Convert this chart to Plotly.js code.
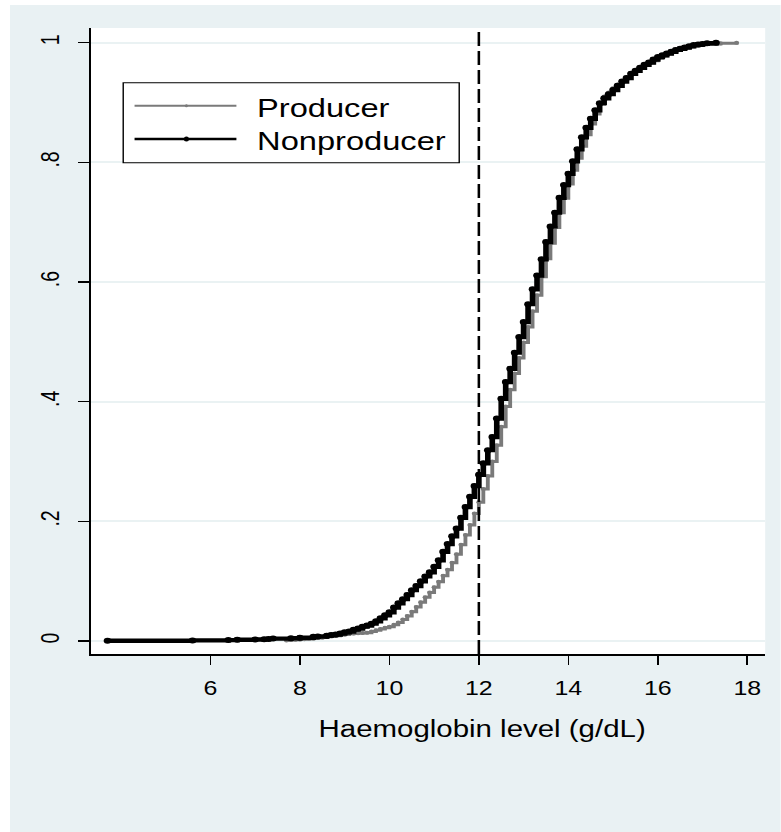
<!DOCTYPE html>
<html>
<head>
<meta charset="utf-8">
<script src="https://cdn.plot.ly/plotly-3.0.1.min.js"></script>
<style>
  html, body { margin: 0; padding: 0; background: #ffffff; width: 781px; height: 832px; overflow: hidden; }
  #chart { position: absolute; left: 10px; top: 5px; width: 602px; height: 827px; transform: scaleX(1.28); transform-origin: 0 0; }
</style>
</head>
<body>
<div id="chart"></div>
<script>
// ---- data ----
const producerHb = [7.7, 7.8, 7.9, 8.0, 8.1, 8.2, 8.3, 8.4, 8.5, 8.6, 8.7, 8.8, 8.9, 9.0, 9.1, 9.2, 9.3, 9.4, 9.5, 9.6, 9.7, 9.8, 9.9,
  10.0, 10.1, 10.2, 10.3, 10.4, 10.5, 10.6, 10.7, 10.8, 10.9, 11.0, 11.1, 11.2, 11.3, 11.4, 11.5, 11.6, 11.7, 11.8, 11.9,
  12.0, 12.1, 12.2, 12.3, 12.4, 12.5, 12.6, 12.7, 12.8, 12.9, 13.0, 13.1, 13.2, 13.3, 13.4, 13.5, 13.6, 13.7, 13.8, 13.9,
  14.0, 14.1, 14.2, 14.3, 14.4, 14.5, 14.6, 14.7, 14.8, 14.9, 15.0, 15.1, 15.2, 15.3, 15.4, 15.5, 15.6, 15.7, 15.8, 15.9,
  16.0, 16.1, 16.2, 16.3, 16.4, 16.5, 16.6, 16.7, 16.8, 16.9, 17.0, 17.2, 17.4, 17.76];
const producerCdf = [0.001, 0.0015, 0.002, 0.0025, 0.003, 0.0035, 0.004, 0.005, 0.006, 0.007, 0.008, 0.009, 0.010, 0.011, 0.012, 0.0125, 0.013, 0.0135, 0.014, 0.016, 0.018, 0.020, 0.022,
  0.024, 0.027, 0.031, 0.036, 0.042, 0.049, 0.057, 0.065, 0.073, 0.081, 0.090, 0.099, 0.109, 0.119, 0.131, 0.145, 0.161, 0.177, 0.194, 0.213,
  0.232, 0.254, 0.276, 0.300, 0.327, 0.358, 0.392, 0.420, 0.447, 0.473, 0.499, 0.525, 0.551, 0.578, 0.609, 0.639, 0.665, 0.691, 0.716, 0.740,
  0.764, 0.787, 0.807, 0.827, 0.846, 0.864, 0.881, 0.897, 0.910, 0.917, 0.924, 0.930, 0.936, 0.942, 0.947, 0.952, 0.957, 0.962, 0.966, 0.970,
  0.974, 0.978, 0.981, 0.984, 0.987, 0.989, 0.991, 0.993, 0.995, 0.996, 0.997, 0.998, 0.999, 1.0];

const nonproducerHb = [3.7, 5.6, 6.4, 6.6, 7.0, 7.2, 7.3, 7.4, 7.8, 8.0, 8.3, 8.4, 8.6, 8.7, 8.8, 8.9, 9.0, 9.1, 9.2, 9.3, 9.4, 9.5, 9.6, 9.7, 9.8, 9.9,
  10.0, 10.1, 10.2, 10.3, 10.4, 10.5, 10.6, 10.7, 10.8, 10.9, 11.0, 11.1, 11.2, 11.3, 11.4, 11.5, 11.6, 11.7, 11.8, 11.9,
  12.0, 12.1, 12.2, 12.3, 12.4, 12.5, 12.6, 12.7, 12.8, 12.9, 13.0, 13.1, 13.2, 13.3, 13.4, 13.5, 13.6, 13.7, 13.8, 13.9,
  14.0, 14.1, 14.2, 14.3, 14.4, 14.5, 14.6, 14.7, 14.8, 14.9, 15.0, 15.1, 15.2, 15.3, 15.4, 15.5, 15.6, 15.7, 15.8, 15.9,
  16.0, 16.1, 16.2, 16.3, 16.4, 16.5, 16.6, 16.7, 16.8, 16.9, 17.0, 17.1, 17.3];
const nonproducerCdf = [0.0005, 0.001, 0.0015, 0.002, 0.0025, 0.003, 0.0035, 0.004, 0.0045, 0.0055, 0.007, 0.0075, 0.009, 0.010, 0.011, 0.0125, 0.0145, 0.016, 0.019, 0.021, 0.024, 0.026, 0.029, 0.033, 0.038, 0.043,
  0.048, 0.056, 0.063, 0.070, 0.077, 0.085, 0.092, 0.100, 0.108, 0.115, 0.124, 0.135, 0.149, 0.162, 0.175, 0.188, 0.206, 0.224, 0.241, 0.259,
  0.278, 0.297, 0.319, 0.341, 0.372, 0.405, 0.433, 0.455, 0.482, 0.508, 0.533, 0.563, 0.588, 0.611, 0.638, 0.667, 0.693, 0.716, 0.741, 0.762,
  0.781, 0.802, 0.822, 0.842, 0.858, 0.873, 0.887, 0.899, 0.907, 0.914, 0.921, 0.928, 0.935, 0.941, 0.948, 0.953, 0.958, 0.963, 0.967, 0.972,
  0.976, 0.979, 0.982, 0.985, 0.988, 0.990, 0.992, 0.994, 0.996, 0.997, 0.998, 0.999, 1.0];

const seriesNames = ["Producer", "Nonproducer"];
const xTickVals = [6, 8, 10, 12, 14, 16, 18];
const xTickText = ["6", "8", "10", "12", "14", "16", "18"];
const yTickVals = [0, 0.2, 0.4, 0.6, 0.8, 1];
const yTickText = ["0", ".2", ".4", ".6", ".8", "1"];
const cutoff = 12;
const xTitle = "Haemoglobin level (g/dL)";

// ---- chart ----
const FONT = "Liberation Sans, Arial, Helvetica, sans-serif";
const BG = "#E9F1F3";

const traces = [
  {
    x: producerHb, y: producerCdf, name: seriesNames[0], type: "scatter", mode: "lines+markers",
    line: { color: "#7a7a7a", width: 3, shape: "hv" },
    marker: { color: "#7a7a7a", size: 4, symbol: "circle" },
    cliponaxis: false
  },
  {
    x: nonproducerHb, y: nonproducerCdf, name: seriesNames[1], type: "scatter", mode: "lines+markers",
    line: { color: "#000000", width: 4.4, shape: "hv" },
    marker: { color: "#000000", size: 6, symbol: "circle" },
    cliponaxis: false
  }
];

// legend geometry (paper coords)
const legBox = { x0: 0.0483, x1: 0.5464, y0: 0.7848, y1: 0.9126 };
const legLineX = [0.0651, 0.2161];
const legRowsY = [0.8759, 0.8227];
const legMarkX = 0.142;
const legTextX = 0.2426;

const shapes = [
  { type: "line", xref: "x", yref: "paper", x0: cutoff, x1: cutoff, y0: 0, y1: 1,
    line: { color: "#000000", width: 2, dash: "14px,5px" }, layer: "above" },
  { type: "rect", xref: "paper", yref: "paper", x0: legBox.x0, x1: legBox.x1, y0: legBox.y0, y1: legBox.y1,
    fillcolor: "#ffffff", line: { color: "#000000", width: 1.1 }, layer: "above" },
  { type: "line", xref: "paper", yref: "paper", x0: legLineX[0], x1: legLineX[1], y0: legRowsY[0], y1: legRowsY[0],
    line: { color: "#7a7a7a", width: 2 }, layer: "above" },
  { type: "line", xref: "paper", yref: "paper", x0: legLineX[0], x1: legLineX[1], y0: legRowsY[1], y1: legRowsY[1],
    line: { color: "#000000", width: 2.4 }, layer: "above" },
  { type: "circle", xref: "paper", yref: "paper", xsizemode: "pixel", ysizemode: "pixel",
    xanchor: legMarkX, yanchor: legRowsY[0], x0: -1.2, x1: 1.2, y0: -1.5, y1: 1.5,
    fillcolor: "#7a7a7a", line: { width: 0 }, layer: "above" },
  { type: "circle", xref: "paper", yref: "paper", xsizemode: "pixel", ysizemode: "pixel",
    xanchor: legMarkX, yanchor: legRowsY[1], x0: -2, x1: 2, y0: -2.5, y1: 2.5,
    fillcolor: "#000000", line: { width: 0 }, layer: "above" }
];

const annotations = [
  { text: seriesNames[0], xref: "paper", yref: "paper", x: legTextX, y: legRowsY[0] - 0.004, xanchor: "left", yanchor: "middle",
    showarrow: false, font: { family: FONT, size: 25.5, color: "#000000" } },
  { text: seriesNames[1], xref: "paper", yref: "paper", x: legTextX, y: legRowsY[1] - 0.004, xanchor: "left", yanchor: "middle",
    showarrow: false, font: { family: FONT, size: 25.5, color: "#000000" } },
  { text: xTitle, xref: "paper", yref: "paper", x: 0.5806, y: -0.12, xanchor: "center", yanchor: "middle",
    showarrow: false, font: { family: FONT, size: 23, color: "#000000" } }
];

const layout = {
  width: 602, height: 827, autosize: false,
  margin: { l: 62.5, r: 11.5, t: 23, b: 178, pad: 0 },
  paper_bgcolor: BG, plot_bgcolor: "#ffffff",
  showlegend: false, hovermode: false,
  font: { family: FONT, color: "#000000" },
  xaxis: {
    range: [3.323, 18.40], tickvals: xTickVals, ticktext: xTickText,
    showline: true, linecolor: "#000000", linewidth: 1.5,
    ticks: "outside", ticklen: 9, tickwidth: 1.3, tickcolor: "#000000",
    showgrid: false, zeroline: false, ticklabelstandoff: 7,
    tickfont: { family: FONT, size: 19.5, color: "#000000" }
  },
  yaxis: {
    range: [-0.0217, 1.0246], tickvals: yTickVals, ticktext: yTickText, tickangle: -90,
    showline: true, linecolor: "#000000", linewidth: 1.2,
    ticks: "outside", ticklen: 8.6, tickwidth: 1.3, tickcolor: "#000000",
    showgrid: true, gridcolor: "#EAF2F3", gridwidth: 2, zeroline: false, ticklabelstandoff: 7,
    tickfont: { family: FONT, size: 19.5, color: "#000000" }
  },
  shapes: shapes,
  annotations: annotations
};

Plotly.newPlot("chart", traces, layout, { displayModeBar: false, staticPlot: true });
</script>
</body>
</html>
